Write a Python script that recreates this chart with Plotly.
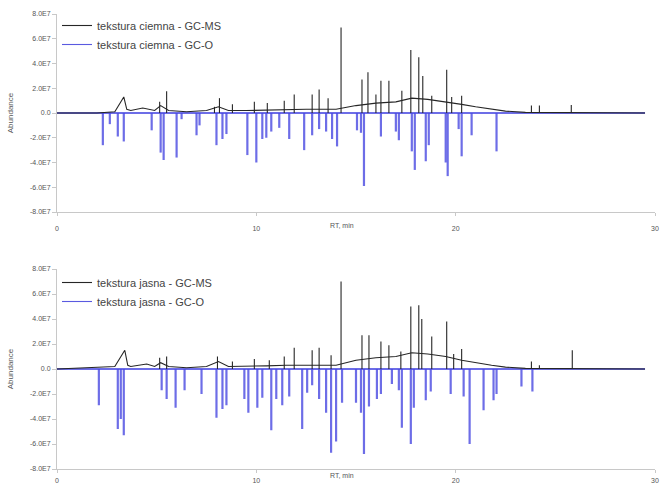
import plotly.graph_objects as go
from plotly.subplots import make_subplots

# ---------------- data (RT in min, abundance in units of 1e7) ----------------
rt_range = [0.0, 29.5]

# top: tekstura ciemna
ms_top_base_rt = [0, 2.0, 2.9, 3.35, 3.5, 3.7, 4.3, 4.9, 5.2, 5.6, 6.5, 7.5, 8.1, 8.6, 9.5, 10.5, 11.5,
                  12.5, 13.3, 14.0, 15.0, 16.0, 17.0, 17.8, 18.6, 19.5, 20.3, 21.0, 21.8, 22.5, 23.5, 29.5]
ms_top_base_v = [0, 0, 0.1, 1.3, 0.3, 0.2, 0.4, 0.2, 0.6, 0.2, 0.1, 0.2, 0.5, 0.2, 0.2, 0.25, 0.3,
                 0.3, 0.3, 0.3, 0.6, 0.8, 0.9, 1.2, 1.1, 0.9, 0.7, 0.5, 0.3, 0.15, 0.05, 0]
ms_top_rt = [5.15, 5.5, 7.9, 8.15, 8.8, 9.9, 10.55, 11.4, 11.9, 12.8, 13.15, 13.6, 14.25, 15.3, 15.6,
             16.0, 16.25, 16.65, 17.3, 17.75, 18.15, 18.35, 18.8, 19.55, 19.8, 20.3, 23.8, 24.2, 25.8]
ms_top_h = [0.9, 1.75, 0.5, 1.2, 0.7, 0.9, 0.8, 1.0, 1.5, 1.5, 1.9, 1.2, 6.9, 2.7, 3.3,
            1.5, 2.6, 2.6, 1.8, 5.1, 4.5, 3.0, 1.4, 3.5, 1.3, 1.4, 0.6, 0.6, 0.65]
o_top_rt = [2.3, 2.65, 3.05, 3.35, 4.75, 5.2, 5.35, 6.0, 6.25, 7.0, 7.15, 8.0, 8.3, 8.5, 9.55, 10.0,
            10.3, 10.5, 10.75, 11.15, 11.65, 12.4, 12.8, 13.15, 13.5, 13.8, 14.05, 15.05, 15.25, 15.4,
            16.25, 17.0, 17.15, 17.8, 17.95, 18.5, 18.65, 19.5, 19.6, 20.15, 20.3, 20.8, 22.05]
o_top_h = [2.6, 0.9, 1.9, 2.3, 1.4, 3.2, 3.8, 3.6, 0.5, 1.8, 1.0, 2.6, 2.1, 1.7, 3.4, 4.0,
           2.1, 2.0, 1.5, 1.2, 2.1, 3.0, 1.8, 1.3, 1.5, 2.1, 2.7, 1.4, 1.6, 5.9,
           1.9, 1.5, 2.2, 3.1, 4.6, 3.9, 2.6, 4.0, 5.1, 1.3, 3.5, 1.8, 3.1]

# bottom: tekstura jasna
ms_bot_base_rt = [0, 2.0, 2.9, 3.4, 3.55, 3.7, 4.5, 4.9, 5.2, 5.6, 6.5, 7.5, 8.1, 8.6, 9.5, 10.5, 11.5,
                  12.5, 13.3, 14.0, 15.0, 16.0, 17.0, 17.8, 18.6, 19.5, 20.3, 21.0, 21.8, 22.5, 23.5, 29.5]
ms_bot_base_v = [0, 0.1, 0.2, 1.5, 0.3, 0.2, 0.4, 0.2, 0.5, 0.2, 0.1, 0.2, 0.6, 0.2, 0.2, 0.25, 0.3,
                 0.3, 0.3, 0.3, 0.7, 0.9, 1.0, 1.3, 1.2, 1.0, 0.7, 0.5, 0.3, 0.15, 0.05, 0]
ms_bot_rt = [5.15, 5.5, 8.05, 8.8, 9.9, 10.65, 11.4, 11.9, 12.8, 13.15, 13.75, 14.25, 15.3, 15.65,
             16.25, 16.65, 17.25, 17.75, 18.15, 18.3, 18.8, 19.55, 19.9, 20.3, 23.8, 24.2, 25.85]
ms_bot_h = [0.9, 1.0, 1.0, 0.6, 0.8, 0.7, 1.0, 1.7, 1.5, 1.7, 1.1, 7.0, 2.7, 2.7,
            2.2, 1.9, 1.4, 5.0, 5.1, 4.0, 2.6, 3.8, 1.2, 1.6, 0.6, 0.3, 1.5]
o_bot_rt = [2.1, 3.05, 3.2, 3.35, 5.25, 5.5, 5.95, 6.4, 7.25, 8.0, 8.3, 8.5, 9.4, 9.6, 10.05, 10.3,
            10.75, 11.0, 11.3, 11.65, 12.3, 12.55, 12.8, 13.15, 13.5, 13.75, 14.0, 14.3, 15.0, 15.25,
            15.4, 15.65, 16.05, 16.25, 16.8, 17.15, 17.3, 17.75, 17.9, 18.5, 18.75, 19.75, 20.4, 20.7,
            21.4, 21.9, 22.05, 23.3, 23.85]
o_bot_h = [2.9, 4.8, 4.0, 5.3, 1.7, 2.4, 3.1, 1.7, 2.0, 3.9, 3.2, 2.9, 2.4, 3.5, 3.1, 2.3,
           4.9, 2.4, 2.9, 2.2, 4.8, 1.9, 1.3, 2.4, 3.5, 6.7, 5.8, 2.7, 2.7, 3.5,
           6.8, 3.0, 2.4, 2.0, 1.2, 1.7, 4.7, 6.0, 3.1, 2.5, 1.8, 2.0, 2.2, 6.0,
           3.3, 2.5, 2.0, 1.4, 1.8]

y_tickvals = [-8, -6, -4, -2, 0, 2, 4, 6, 8]
y_ticktext = ["-8.0E7", "-6.0E7", "-4.0E7", "-2.0E7", "0.0", "2.0E7", "4.0E7", "6.0E7", "8.0E7"]
x_tickvals = [0, 10, 20, 30]
names_top = ["tekstura ciemna - GC-MS", "tekstura ciemna - GC-O"]
names_bot = ["tekstura jasna - GC-MS", "tekstura jasna - GC-O"]

SCALE = 1e7
MS_COLOR = "#262626"
O_COLOR = "rgba(72,72,225,0.8)"
O_LEG_COLOR = "#5a5ae0"
FONT = "Liberation Sans, Arial"
TXT = "#555"


def ms_xy(base_rt, base_v, peak_rt, peak_h):
    xs = list(base_rt) + [None]
    ys = [v * SCALE for v in base_v] + [None]
    for r, h in zip(peak_rt, peak_h):
        xs += [r, r, None]
        ys += [0, h * SCALE, None]
    return xs, ys


def o_xy(peak_rt, peak_h):
    xs = list(rt_range) + [None]
    ys = [0, 0, None]
    for r, h in zip(peak_rt, peak_h):
        xs += [r, r, None]
        ys += [0, -h * SCALE, None]
    return xs, ys


fig = make_subplots(rows=2, cols=1, vertical_spacing=0.12)

panels = [
    (1, ms_top_base_rt, ms_top_base_v, ms_top_rt, ms_top_h, o_top_rt, o_top_h, names_top, "legend"),
    (2, ms_bot_base_rt, ms_bot_base_v, ms_bot_rt, ms_bot_h, o_bot_rt, o_bot_h, names_bot, "legend2"),
]
for row, brt, bv, prt, ph, ort, oh, names, leg in panels:
    ox, oy = o_xy(ort, oh)
    mx, my = ms_xy(brt, bv, prt, ph)
    fig.add_trace(go.Scatter(x=ox, y=oy, mode="lines", name=names[1], showlegend=False,
                             line=dict(color=O_COLOR, width=2.2)), row=row, col=1)
    fig.add_trace(go.Scatter(x=mx, y=my, mode="lines", name=names[0], showlegend=False,
                             line=dict(color=MS_COLOR, width=1.1)), row=row, col=1)
    # legend entries (thin line samples as in the original)
    fig.add_trace(go.Scatter(x=[None], y=[None], mode="lines", name=names[0], legend=leg,
                             line=dict(color=MS_COLOR, width=1.1)), row=row, col=1)
    fig.add_trace(go.Scatter(x=[None], y=[None], mode="lines", name=names[1], legend=leg,
                             line=dict(color=O_LEG_COLOR, width=1.1)), row=row, col=1)

axis_font = dict(family=FONT, size=7, color=TXT)
for row in (1, 2):
    fig.update_xaxes(range=[0, 30], tickvals=x_tickvals, showgrid=False, zeroline=False,
                     showline=True, linecolor="#c8c8c8", linewidth=1, ticks="outside",
                     ticklen=3, tickcolor="#c8c8c8", tickfont=axis_font,
                     ticklabelstandoff=7 if row == 1 else 2,
                     automargin=False, row=row, col=1)
    fig.update_yaxes(range=[-8e7, 8e7], tickvals=[v * SCALE for v in y_tickvals], ticktext=y_ticktext,
                     showgrid=False, zeroline=False, showline=True, linecolor="#c8c8c8", linewidth=1,
                     ticks="outside", ticklen=4, tickcolor="#c8c8c8", tickfont=axis_font,
                     automargin=False,
                     title=dict(text="Abundance", font=dict(family=FONT, size=8, color=TXT)),
                     row=row, col=1)

H, T, B = 485, 14, 13
ph_ = H - T - B
fig.update_layout(yaxis=dict(domain=[(H - B - 212) / ph_, 1.0]),
                  yaxis2=dict(domain=[(H - B - 469) / ph_, (H - B - 269) / ph_]))

leg_common = dict(x=0.0, xanchor="left", yanchor="top", bgcolor="rgba(0,0,0,0)",
                  font=dict(family=FONT, size=11, color="#444"),
                  traceorder="normal", itemwidth=30)
fig.update_layout(
    width=660, height=485,
    margin=dict(l=57, r=5, t=T, b=B),
    paper_bgcolor="white", plot_bgcolor="white",
    showlegend=True,
    legend=dict(y=1.0 + 3 / ph_, **leg_common),
    legend2=dict(y=(H - B - 268) / ph_, **leg_common),
)

for xr, ref, ypos in (("x", "y domain", -0.07), ("x2", "y2 domain", -0.035)):
    fig.add_annotation(text="RT, min", x=14.3, xref=xr, y=ypos, yref=ref, showarrow=False,
                       yanchor="middle", font=dict(family=FONT, size=7, color=TXT))

fig.write_html("out.html")
